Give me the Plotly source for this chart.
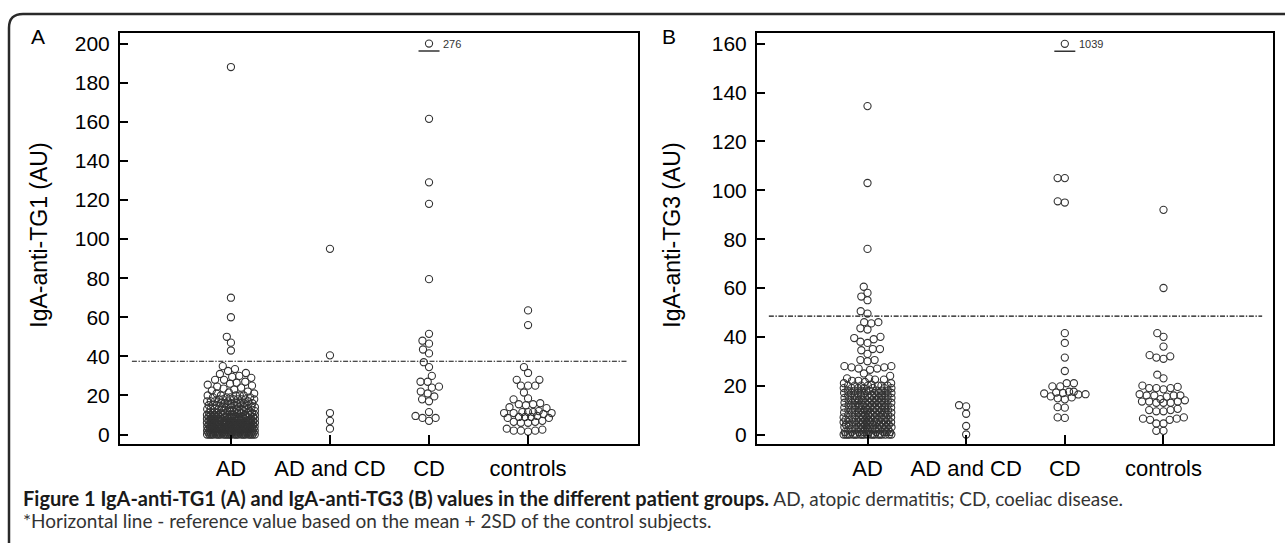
import numpy as np
import plotly.graph_objects as go

W, H = 1285, 543

categories = ["AD", "AD and CD", "CD", "controls"]
tick_labels = categories

# ---------------- Panel A : IgA-anti-TG1 (AU) ----------------
ad_tg1_upper = [188, 70, 60, 50, 47, 43, 35, 33.5, 32.5, 31.5, 31, 30, 29.5, 29, 28, 28, 27,
                26.5, 26, 25.5, 25, 24.5, 24, 23.5, 23, 22.5, 22, 21.5, 21, 21]
ad_tg1_block_levels = [0, 1, 2, 3, 4, 5, 6, 7, 8, 9, 10, 11, 12, 13, 14, 15, 16, 17, 18, 19, 20]
ad_tg1_block_counts = [22, 20, 19, 18, 17, 16, 15, 14, 13, 12, 11, 9, 8, 7, 7, 6, 7, 5, 7, 4, 5]
adcd_tg1 = [95, 40.5, 11, 7, 3]
cd_tg1 = [161.5, 129, 118, 79.5, 51.5, 48, 46.5, 43.5, 41.5, 37, 34.5, 30, 27, 27, 24.5, 24,
          22, 21, 19.5, 18, 17, 11.5, 9.5, 8.5, 8.5, 7]
cd_tg1_offscale = [276]
controls_tg1 = [63.5, 56, 34.5, 31.5, 28, 28, 25, 25, 25, 21.5, 18.5, 18, 16, 15.5, 15.5, 15,
                14, 13.5, 12, 11.5, 11.5, 11.5, 11, 11, 11, 10.5, 9.5, 9, 9, 9, 8.5, 8.5, 7,
                6.5, 6.5, 6, 6, 3, 2.5, 2, 2, 2, 1.5]
ref_tg1 = 37.5
yticks_tg1 = [0, 20, 40, 60, 80, 100, 120, 140, 160, 180, 200]

# ---------------- Panel B : IgA-anti-TG3 (AU) ----------------
ad_tg3_upper = [134.5, 103, 76, 60.5, 58, 56.5, 55, 50.5, 49.5, 46, 46, 45.5, 43.5, 43, 40,
                39.5, 39, 38, 37.5, 35, 35, 34.5, 33, 30.5, 30.5, 30, 28, 28, 27.5, 27.5, 27,
                27, 26.5, 25, 24, 23, 23, 22.5, 22.5, 22, 22, 21.5, 21, 21, 20.5]
ad_tg3_block_levels = [0, 1, 2, 3, 4, 5, 6, 7, 8, 9, 10, 11, 12, 13, 14, 15, 16, 17, 18, 19, 20]
ad_tg3_block_counts = [20, 10, 10, 10, 10, 10, 10, 10, 9, 9, 9, 9, 9, 9, 9, 9, 8, 8, 8, 7, 7]
adcd_tg3 = [12, 11.5, 8.5, 3.5, 0]
cd_tg3 = [105, 105, 95.5, 95, 41.5, 37.5, 31.5, 26, 21, 21, 19.7, 19.7, 17.5, 17.5, 17.2, 17,
          16.8, 16.5, 16.4, 15.6, 15.2, 14.8, 14.4, 11.2, 11, 7, 6.8]
cd_tg3_offscale = [1039]
controls_tg3 = [92, 60, 41.5, 40, 36, 32.5, 32, 31.5, 31, 24.5, 23, 20, 19.5, 19, 19, 19, 18.5,
                16.5, 16, 16, 16, 16, 15.5, 14.5, 14, 13.5, 13.5, 13.5, 13, 13, 13, 10.5, 10,
                10, 9.5, 9.5, 7, 6.5, 6.5, 6, 6, 4.5, 4.5, 1.5, 1.5]
ref_tg3 = 48.5
yticks_tg3 = [0, 20, 40, 60, 80, 100, 120, 140, 160]

# ---------------- layout geometry (pixels) ----------------
plot_top_px, plot_bot_px = 32, 445
A_left_px, A_right_px = 120, 638
B_left_px, B_right_px = 757, 1273
x_range = [-1.12, 4.11]
A_yrange = [-4.6, 205.5]
B_yrange = [-3.7, 164.5]
ydom = [(H - plot_bot_px) / H, (H - plot_top_px) / H]

MARKER = 7.2
LINE_COL = "#333333"
FILL = "rgba(255,255,255,0)"


def swarm_offsets(values, y_px_per_unit, diam=MARKER, max_half=24.0):
    vals = np.asarray(values, float)
    order = np.argsort(vals, kind="stable")
    ys = vals * y_px_per_unit
    out = np.zeros(len(vals))
    pxs, pys = [], []
    for i in order:
        y = ys[i]
        dmin = diam
        while True:
            if pxs:
                ax = np.array(pxs)
                ay = np.array(pys)
                m = np.abs(ay - y) < dmin
                nx, ny = ax[m], ay[m]
            else:
                nx = ny = np.array([])
            if nx.size == 0:
                x = 0.0
                break
            dy = ny - y
            dx = np.sqrt(np.maximum(dmin ** 2 - dy ** 2, 0))
            c = np.concatenate([[0.0], nx + dx, nx - dx])
            c = c[np.abs(c) <= max_half + 1e-9]
            if c.size:
                d2 = (c[:, None] - nx[None, :]) ** 2 + dy[None, :] ** 2
                ok = np.all(d2 >= dmin ** 2 - 1e-6, axis=1)
                if ok.any():
                    cc = c[ok]
                    j = np.lexsort((cc, np.abs(cc)))[0]
                    x = cc[j]
                    break
            dmin *= 0.92
        out[i] = x
        pxs.append(x)
        pys.append(y)
    return out


fig = go.Figure()


def add_panel(groups, xa, ya, left_px, right_px, yrange, yticks, ref, offscale_cat, offscale_vals):
    px_per_cat = (right_px - left_px) / (x_range[1] - x_range[0])
    px_per_val = (plot_bot_px - plot_top_px) / (yrange[1] - yrange[0])
    for ci, vals in enumerate(groups):
        vals = np.asarray(vals, float)
        offs = swarm_offsets(vals, px_per_val)
        order = np.argsort(vals, kind="stable")
        fig.add_trace(go.Scatter(
            x=ci + offs[order] / px_per_cat, y=vals[order], mode="markers",
            xaxis=xa, yaxis=ya, showlegend=False, hoverinfo="y",
            marker=dict(symbol="circle", size=MARKER, color=FILL,
                        line=dict(color=LINE_COL, width=1.1))))
    # off-scale value, drawn at the top of the scale with an underline and its value
    top = yticks[-1]
    fig.add_trace(go.Scatter(
        x=[offscale_cat], y=[top], mode="markers", xaxis=xa, yaxis=ya, showlegend=False,
        hoverinfo="skip",
        marker=dict(symbol="circle", size=MARKER, color=FILL, line=dict(color=LINE_COL, width=1.1))))
    fig.add_trace(go.Scatter(
        x=[offscale_cat], y=[top - 7.5 / px_per_val], mode="markers", xaxis=xa, yaxis=ya,
        showlegend=False, hoverinfo="skip",
        marker=dict(symbol="line-ew", size=15, line=dict(color=LINE_COL, width=1.6))))
    fig.add_annotation(x=offscale_cat + 12 / px_per_cat, y=top, xref=xa, yref=ya,
                       text=str(offscale_vals[0]), showarrow=False, xanchor="left",
                       yanchor="middle", font=dict(family="Liberation Sans, Arial", size=11,
                                                   color="#333333"))
    fig.add_shape(type="line", xref=xa, yref=ya, x0=-1, x1=4, y0=ref, y1=ref,
                  line=dict(color="#111111", width=1.2, dash="5px,1.6px,1.4px,1.6px"))


add_panel([np.concatenate([ad_tg1_upper, np.repeat(ad_tg1_block_levels, ad_tg1_block_counts)]),
           adcd_tg1, cd_tg1, controls_tg1],
          "x", "y", A_left_px, A_right_px, A_yrange, yticks_tg1, ref_tg1, 2, cd_tg1_offscale)
add_panel([np.concatenate([ad_tg3_upper, np.repeat(ad_tg3_block_levels, ad_tg3_block_counts)]),
           adcd_tg3, cd_tg3, controls_tg3],
          "x2", "y2", B_left_px, B_right_px, B_yrange, yticks_tg3, ref_tg3, 2, cd_tg3_offscale)

FAM = "Liberation Sans, Arial, sans-serif"
TICKFONT = dict(family=FAM, size=21, color="black")
CATFONT = dict(family=FAM, size=22, color="black")
TITLEFONT = dict(family=FAM, size=23, color="black")
common_x = dict(range=x_range, tickmode="array", tickvals=[0, 1, 2, 3], ticktext=tick_labels,
                ticks="inside", ticklen=9, tickwidth=2, tickcolor="black", showline=True,
                linewidth=2, linecolor="black", mirror=True, showgrid=False, zeroline=False,
                tickfont=CATFONT, ticklabelstandoff=4, fixedrange=True)
common_y = dict(tickmode="array", ticks="inside", ticklen=8, tickwidth=2, tickcolor="black",
                showline=True, linewidth=2, linecolor="black", mirror=True, showgrid=False,
                zeroline=False, tickfont=TICKFONT, ticklabelstandoff=4, fixedrange=True,
                domain=ydom)

fig.update_layout(
    width=W, height=H, margin=dict(l=0, r=0, t=0, b=0),
    paper_bgcolor="white", plot_bgcolor="white",
    xaxis=dict(domain=[A_left_px / W, A_right_px / W], anchor="y", **common_x),
    yaxis=dict(range=A_yrange, tickvals=yticks_tg1, anchor="x", **common_y),
    xaxis2=dict(domain=[B_left_px / W, B_right_px / W], anchor="y2", **common_x),
    yaxis2=dict(range=B_yrange, tickvals=yticks_tg3, anchor="x2", **common_y),
)

# y-axis titles and panel letters
for xpx, txt in [(39, "IgA-anti-TG1 (AU)"), (672, "IgA-anti-TG3 (AU)")]:
    fig.add_annotation(x=xpx / W, y=1 - 236 / H, xref="paper", yref="paper", text=txt,
                       textangle=-90, showarrow=False, xanchor="center", yanchor="middle",
                       font=TITLEFONT)
for xpx, txt in [(37.5, "A"), (669, "B")]:
    fig.add_annotation(x=xpx / W, y=1 - 36 / H, xref="paper", yref="paper", text=txt,
                       showarrow=False, xanchor="center", yanchor="middle", font=TICKFONT)

# caption
CAPFONT = dict(family="Lato, Open Sans, sans-serif", size=19, color="#333333")
fig.add_annotation(x=21 / W, y=1 - 500 / H, xref="paper", yref="paper", showarrow=False,
                   xanchor="left", yanchor="middle", font=CAPFONT,
                   text="<b><span style='color:#1a1a1a;font-size:20px'>Figure 1 IgA-anti-TG1 (A) and "
                        "IgA-anti-TG3 (B) values in the different patient groups.</span></b> "
                        "AD, atopic dermatitis; CD, coeliac disease.")
fig.add_annotation(x=21 / W, y=1 - 522 / H, xref="paper", yref="paper", showarrow=False,
                   xanchor="left", yanchor="middle", font=CAPFONT,
                   text="*Horizontal line - reference value based on the mean + 2SD of the control subjects.")

# rounded outer frame (runs off the right and bottom edges)
fx, fy = 9 / W, 1 - 13 / H
rx, ry = 14 / W, 14 / H
fig.add_shape(type="path", xref="paper", yref="paper",
              path=f"M {fx},-0.05 L {fx},{fy - ry} Q {fx},{fy} {fx + rx},{fy} L 1.05,{fy}",
              line=dict(color="#2a2a2a", width=2.5))

fig.write_html("out.html", config={"displayModeBar": False},
               post_script="document.body.style.margin='0px';document.body.style.overflow='hidden';")
